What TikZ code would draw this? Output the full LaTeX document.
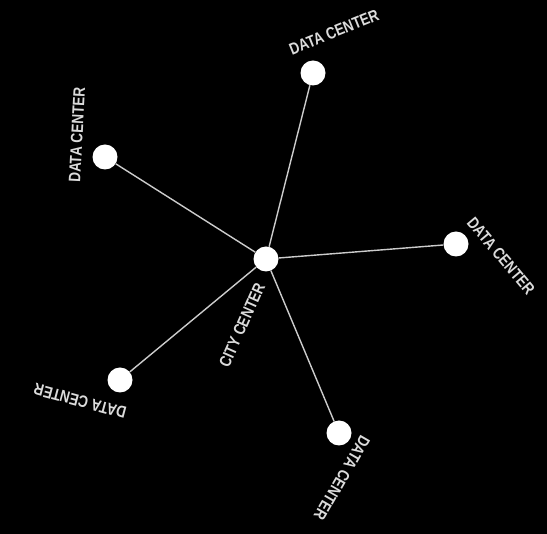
\documentclass[tikz,border=0pt]{standalone}
\usepackage{fontspec}
\setmainfont{Liberation Sans}[FakeStretch=0.82]
\usetikzlibrary{positioning}
\definecolor{linegray}{gray}{0.80}
\definecolor{textgray}{gray}{0.86}
\tikzset{
    site/.style={circle, fill=white, draw=none, minimum size=25pt, inner sep=0pt},
    sitelabel/.style={text=textgray, font=\fontsize{16.5}{18}\selectfont\bfseries, inner sep=1pt},
    link/.style={draw=linegray, line width=1.4pt}
}
\begin{document}
\begin{tikzpicture}[x=1pt, y=-1pt]
        \fill[black] (0,0) rectangle (547,534);
        \useasboundingbox (0,0) rectangle (547,534);
        % Sites
        \node (city) [site] at (266, 259) {};
        \node (dctop) [site] at (313, 73) {};
        \node (dcleft) [site] at (105, 157) {};
        \node (dcright) [site] at (456, 244) {};
        \node (dclow) [site] at (120, 380) {};
        \node (dcbottom) [site] at (339, 433) {};

        % Links
        \draw[link] (city) -- (dctop);
        \draw[link] (city) -- (dcleft);
        \draw[link] (city) -- (dcright);
        \draw[link] (city) -- (dclow);
        \draw[link] (city) -- (dcbottom);

        % Labels
        \node (citylabel) [sitelabel, rotate=66] at (242, 325) {CITY CENTER};
        \node (toplabel) [sitelabel, rotate=22] at (334, 32) {DATA CENTER};
        \node (leftlabel) [sitelabel, rotate=87] at (77, 135) {DATA CENTER};
        \node (rightlabel) [sitelabel, rotate=-50] at (501, 256) {DATA CENTER};
        \node (lowlabel) [sitelabel, rotate=165] at (80, 401) {DATA CENTER};
        \node (bottomlabel) [sitelabel, rotate=-120] at (342, 478) {DATA CENTER};
    \end{tikzpicture}
\end{document}
